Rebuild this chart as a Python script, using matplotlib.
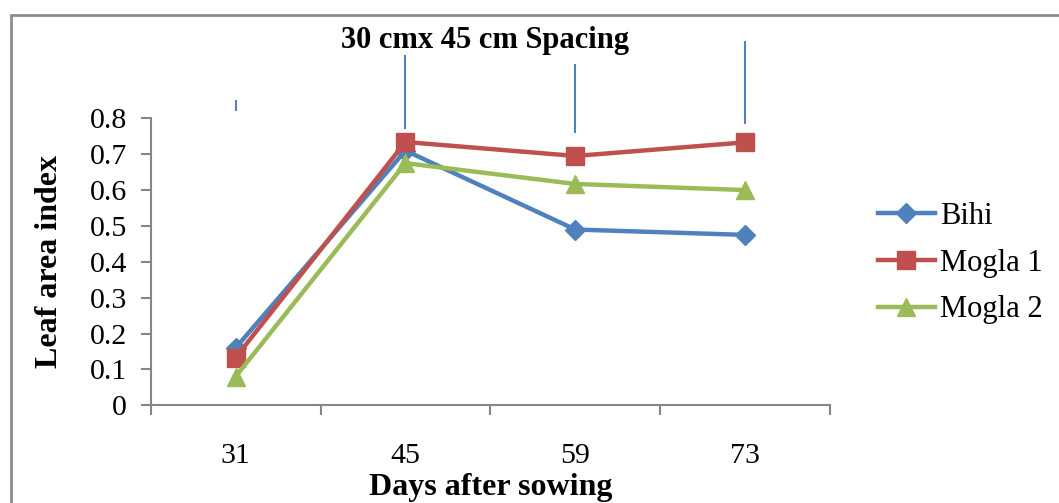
import numpy as np
import matplotlib
matplotlib.use('Agg')
from matplotlib import pyplot as plt
from matplotlib.patches import Rectangle

plt.rcParams['font.family'] = ['Liberation Serif', 'DejaVu Serif']

# data
days = ['31', '45', '59', '73']
bihi = [0.16, 0.71, 0.49, 0.475]
mogla1 = [0.133, 0.734, 0.695, 0.733]
mogla2 = [0.08, 0.675, 0.617, 0.60]
# stray vertical bars above the points (low, high)
bar_low = [0.82, 0.77, 0.759, 0.784]
bar_high = [0.851, 0.976, 0.951, 1.016]

blue = '#4F81BD'
red = '#C0504D'
green = '#9BBB59'
grey = '#868686'

fig = plt.figure(figsize=(10.59, 5.03), dpi=100)
ax = fig.add_axes([0.1423, 0.1942, 0.6415, 0.5706])

x = np.arange(len(days))
ax.plot(x, bihi, '-', color=blue, lw=3.2, marker='D', ms=10, mec=blue, label='Bihi')
ax.plot(x, mogla1, '-', color=red, lw=3.2, marker='s', ms=13, mec=red, label='Mogla 1')
ax.plot(x, mogla2, '-', color=green, lw=3.2, marker='^', ms=13, mec=green, label='Mogla 2')

ax.vlines(x, bar_low, bar_high, color=blue, lw=1.5, clip_on=False)

ax.set_xlim(-0.5, len(days) - 0.5)
ax.set_ylim(0, 0.8)
ax.set_yticks(np.arange(0, 0.81, 0.1))
ax.set_yticklabels(['0'] + ['%.1f' % v for v in np.arange(0.1, 0.81, 0.1)])
ax.set_xticks(x)
ax.set_xticklabels(days)
ax.set_xticks(np.arange(-0.5, len(days), 1.0), minor=True)
ax.tick_params(axis='x', which='major', length=0, pad=27, labelsize=21.5)
ax.tick_params(axis='x', which='minor', length=7, width=1.5, color=grey, direction='out')
ax.tick_params(axis='y', length=7, width=1.5, color=grey, direction='out', pad=10, labelsize=21.5)

for s in ['top', 'right']:
    ax.spines[s].set_visible(False)
for s in ['left', 'bottom']:
    ax.spines[s].set_color(grey)
    ax.spines[s].set_linewidth(1.5)

ax.set_ylabel('Leaf area index', fontsize=23, fontweight='bold')
ax.yaxis.set_label_coords(-0.128, 0.5)
ax.set_xlabel('Days after sowing', fontsize=23, fontweight='bold')
ax.xaxis.set_label_coords(0.5, -0.235)

fig.text(485 / 1059, 1 - 48 / 503, '30 cmx 45 cm Spacing', ha='center', va='baseline',
         fontsize=22, fontweight='bold')

ax.legend(loc='center left', bbox_to_anchor=(878 / 1059, 1 - 263 / 503),
          bbox_transform=fig.transFigure, frameon=False, fontsize=22,
          handlelength=1.85, handletextpad=0.17, labelspacing=0.58,
          borderpad=0, borderaxespad=0)

# outer chart border
fig.patches.append(Rectangle((11 / 1059, -0.1), 1.2, 1.1 - 15 / 503, transform=fig.transFigure,
                             fill=False, edgecolor='#8C8C8C', lw=2))

plt.savefig('out.png', dpi=100)
